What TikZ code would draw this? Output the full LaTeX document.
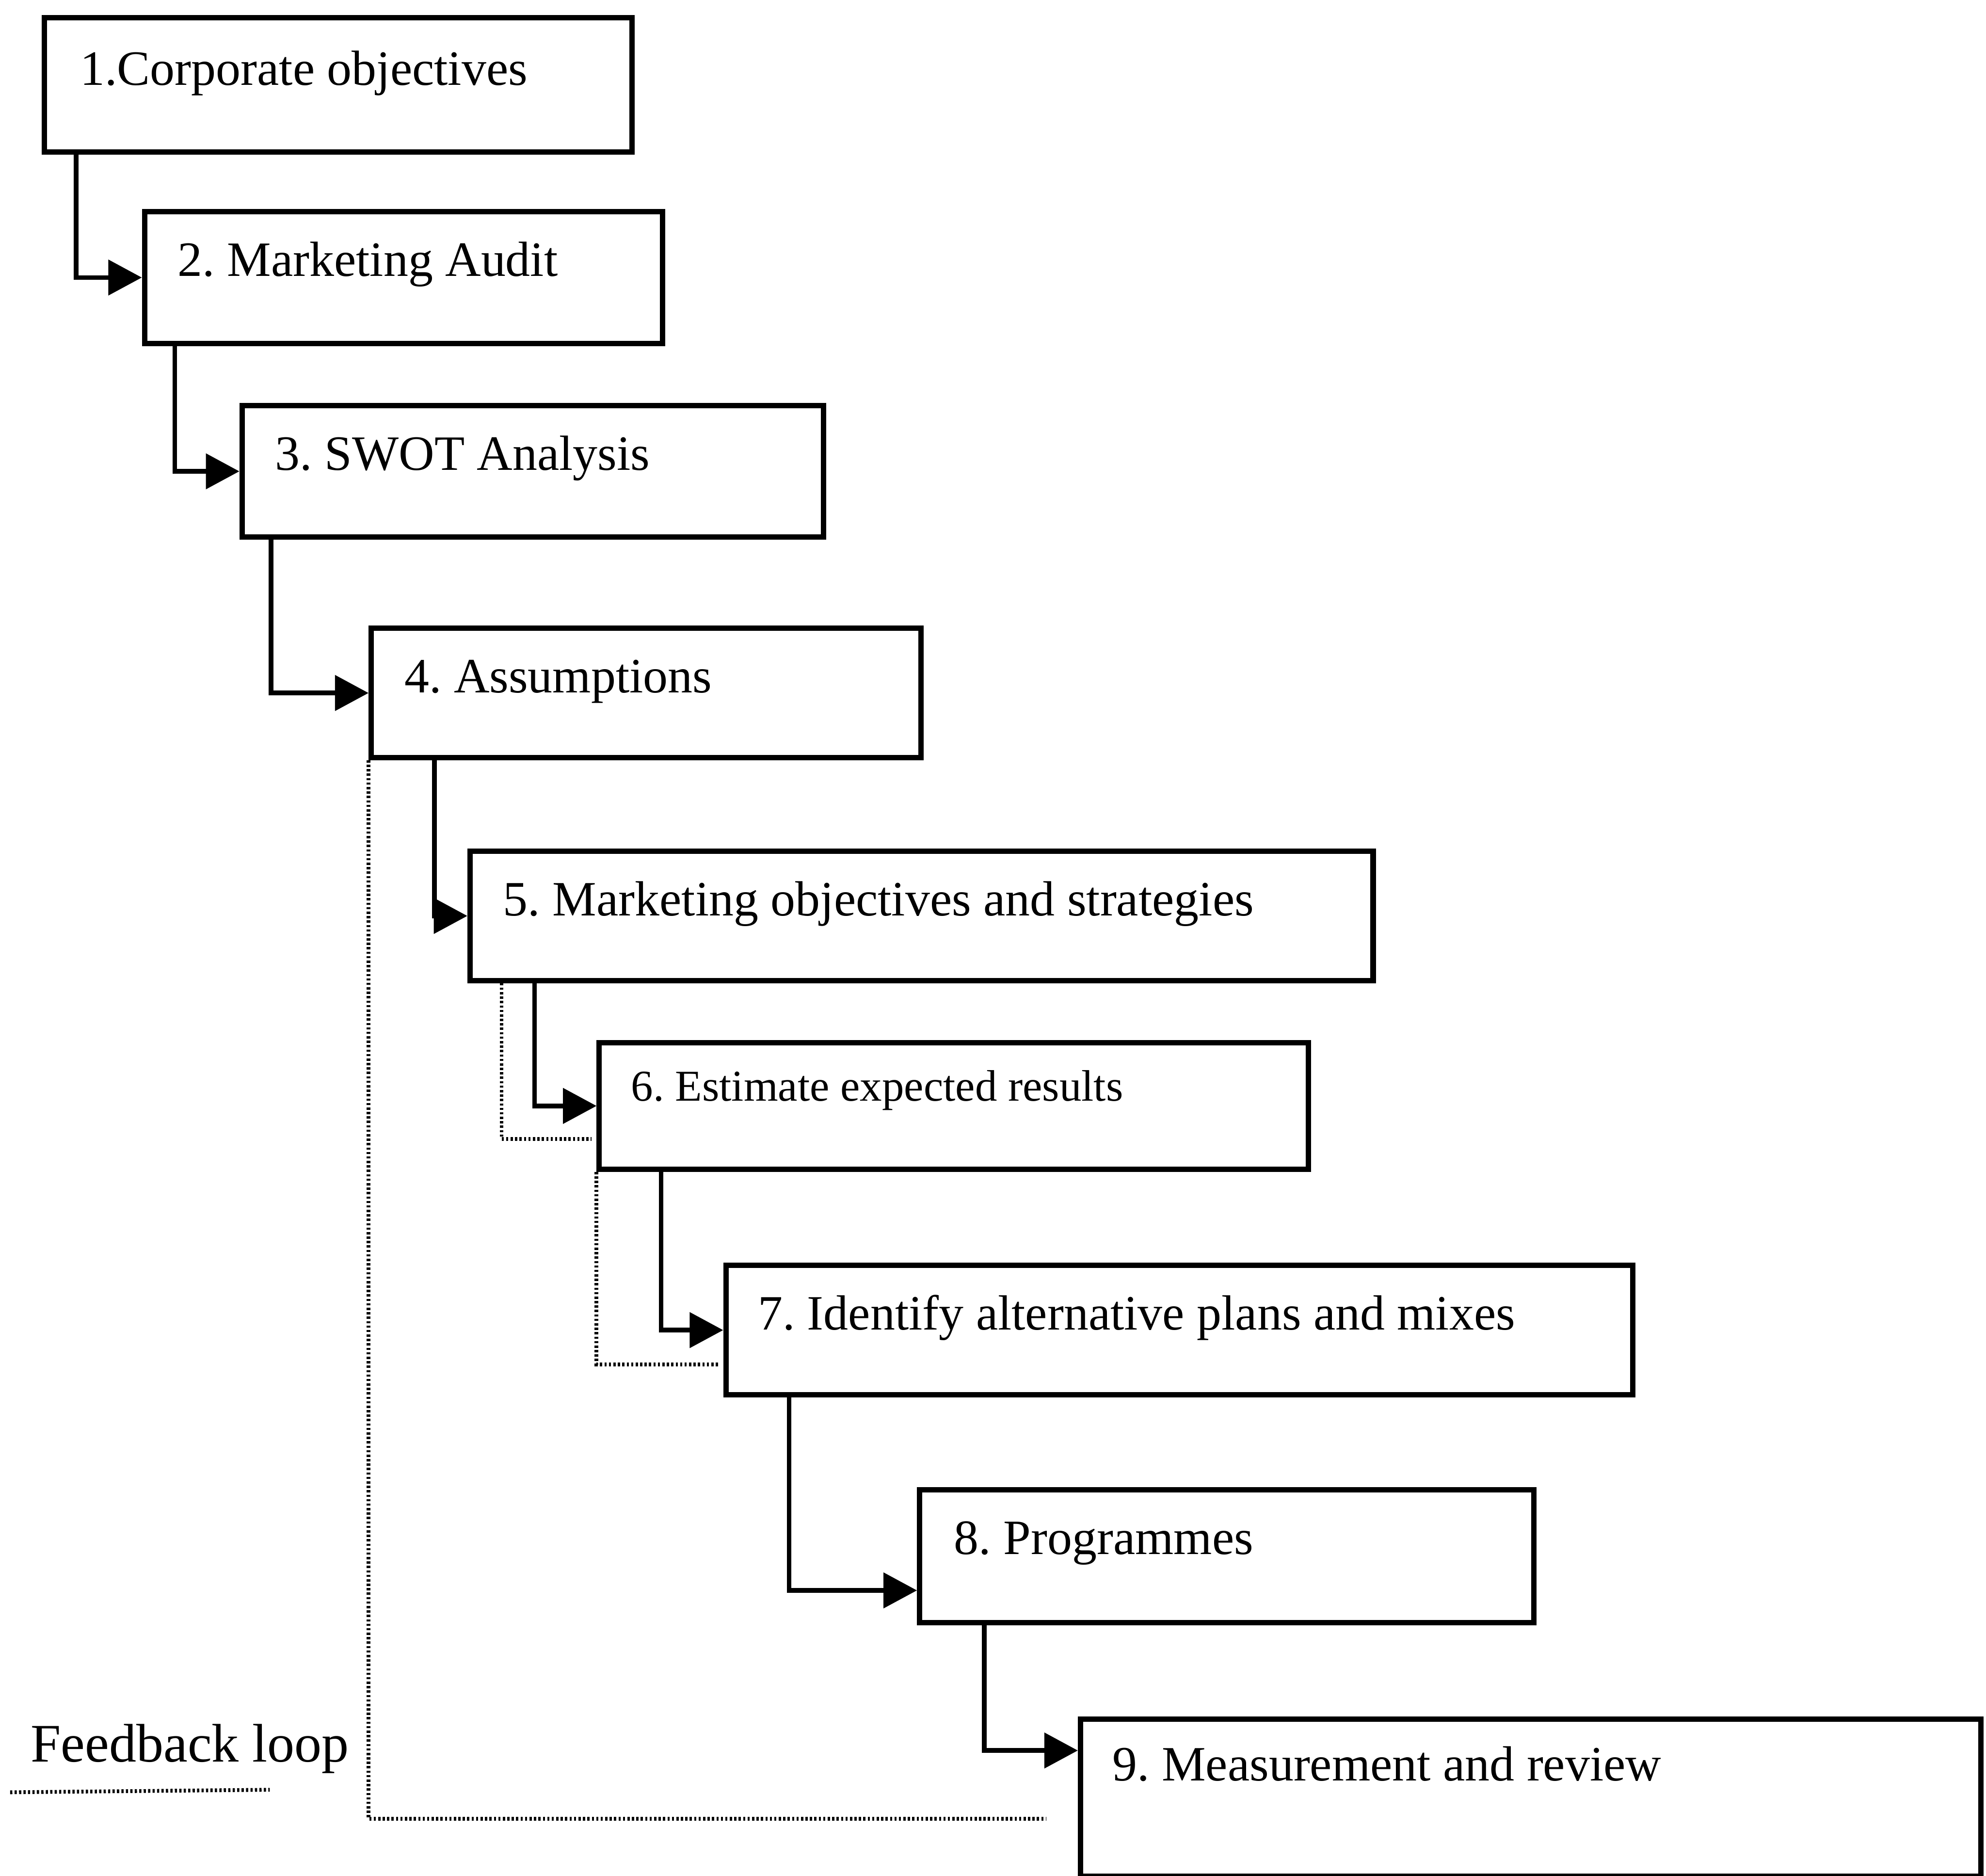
\documentclass[tikz,border=0pt]{standalone}
\usepackage{fontspec}
\setmainfont{Liberation Serif}
\usetikzlibrary{arrows.meta,calc}
\def\pxu{0.02cm}
\frenchspacing
\begin{document}
\begin{tikzpicture}[x=0.02cm,y=-0.02cm,
  stepbox/.style={draw, line width=2.4pt, rectangle, anchor=north west, inner sep=0pt},
  steptext/.style={anchor=base west, inner sep=0pt, font=\fontsize{22.2}{26}\selectfont},
  conn/.style={line width=2.1pt, -{Triangle[length=0.53cm,width=0.55cm]}},
  fb/.style={line width=1.7pt, dash pattern=on 1pt off 1pt},
]
\useasboundingbox (0,0) rectangle (1568,1481);

% boxes of the planning sequence
\node[stepbox, minimum width=464*\pxu, minimum height=106*\pxu] (b1) at (33,12) {};
\node[stepbox, minimum width=409*\pxu, minimum height=104*\pxu] (b2) at (112,165) {};
\node[stepbox, minimum width=459*\pxu, minimum height=104*\pxu] (b3) at (189,318) {};
\node[stepbox, minimum width=434*\pxu, minimum height=102*\pxu] (b4) at (291,494) {};
\node[stepbox, minimum width=713*\pxu, minimum height=102*\pxu] (b5) at (369,670) {};
\node[stepbox, minimum width=560*\pxu, minimum height=100*\pxu] (b6) at (471,821) {};
\node[stepbox, minimum width=716*\pxu, minimum height=102*\pxu] (b7) at (571,997) {};
\node[stepbox, minimum width=485*\pxu, minimum height=105*\pxu] (b8) at (724,1174) {};
\node[stepbox, minimum width=711*\pxu, minimum height=124*\pxu] (b9) at (851,1355) {};

% box captions
\node[steptext] (t1) at ($(b1.north west)+(30,55)$) {1.Corporate objectives};
\node[steptext] (t2) at ($(b2.north west)+(28,53)$) {2. Marketing Audit};
\node[steptext] (t3) at ($(b3.north west)+(28,53)$) {3. SWOT Analysis};
\node[steptext] (t4) at ($(b4.north west)+(28,53)$) {4. Assumptions};
\node[steptext] (t5) at ($(b5.north west)+(28,53)$) {5. Marketing objectives and strategies};
\node[steptext, font=\fontsize{19.8}{24}\selectfont] (t6) at ($(b6.north west)+(27,48)$) {6. Estimate expected results};
\node[steptext] (t7) at ($(b7.north west)+(27,53)$) {7. Identify alternative plans and mixes};
\node[steptext] (t8) at ($(b8.north west)+(29,53)$) {8. Programmes};
\node[steptext] (t9) at ($(b9.north west)+(27,51)$) {9. Measurement and review};

% main flow
\draw[conn] ($(b1.south west)+(27,0)$) |- (b2.west);
\draw[conn] ($(b2.south west)+(26,0)$) |- (b3.west);
\draw[conn] ($(b3.south west)+(25,0)$) |- (b4.west);
\draw[conn] ($(b4.south west)+(52,0)$) |- (b5.west);
\draw[conn] ($(b5.south west)+(53,0)$) |- (b6.west);
\draw[conn] ($(b6.south west)+(51,0)$) |- (b7.west);
\draw[conn] ($(b7.south west)+(52,0)$) |- ($(b8.west)+(0,27)$);
\draw[conn] ($(b8.south west)+(53,0)$) |- ($(b9.north west)+(0,27)$);

% feedback paths
\coordinate (fbend) at (826,1436);
\draw[fb] (b4.south west) |- (fbend);
\draw[fb] ($(b5.south west)+(27,0)$) |- ($(b6.west)+(-4,26)$);
\draw[fb] (b6.south west) |- ($(b7.west)+(-4,27)$);

% legend
\node[steptext, font=\fontsize{24.4}{28}\selectfont] (tfb) at (24,1391) {Feedback loop};
\coordinate (lg1) at (8,1415);
\coordinate (lg2) at (213,1413);
\draw[fb] (lg1) -- (lg2);
\end{tikzpicture}
\end{document}
